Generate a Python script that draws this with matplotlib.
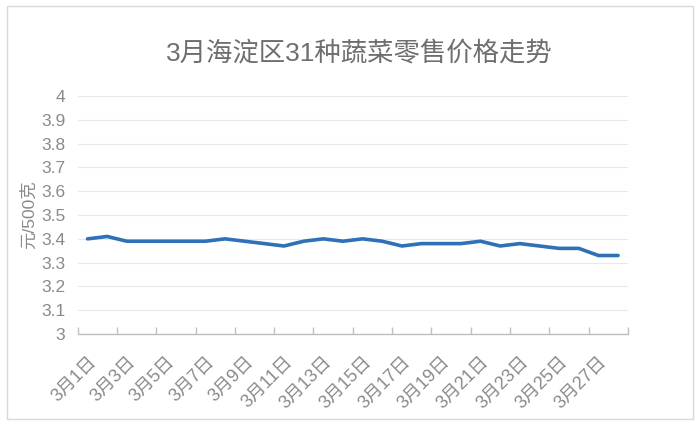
import matplotlib
matplotlib.use("Agg")
import matplotlib.pyplot as plt
from matplotlib.patches import Rectangle

plt.rcParams['font.family'] = ['Liberation Sans', 'Noto Sans CJK SC', 'DejaVu Sans']

# 3月每日均价（元/500克），读自原图
days = ["3月%d日" % d for d in range(1, 29)]
prices = [3.40, 3.41, 3.39, 3.39, 3.39, 3.39, 3.39, 3.40, 3.39, 3.38,
          3.37, 3.39, 3.40, 3.39, 3.40, 3.39, 3.37, 3.38, 3.38, 3.38,
          3.39, 3.37, 3.38, 3.37, 3.36, 3.36, 3.33, 3.33]
yticks = [3.0, 3.1, 3.2, 3.3, 3.4, 3.5, 3.6, 3.7, 3.8, 3.9, 4.0]
ytick_labels = ["3", "3.1", "3.2", "3.3", "3.4", "3.5", "3.6", "3.7", "3.8", "3.9", "4"]

title = "3月海淀区31种蔬菜零售价格走势"
ylabel = "元/500克"

gray = "#8a8a8a"
line_blue = "#2f71b6"

fig = plt.figure(figsize=(7, 4.25), dpi=100)
ax = fig.add_axes([0.111, 0.214, 0.786, 0.56])

x = list(range(len(days)))
ax.plot(x, prices, color=line_blue, linewidth=2.6, solid_joinstyle='round',
        solid_capstyle='round')

ax.set_xlim(-0.5, len(days) - 0.5)
ax.set_ylim(3.0, 4.0)

# y axis: gridlines, no spine
ax.set_yticks(yticks)
ax.set_yticklabels(ytick_labels, color=gray, fontsize=12.5)
ax.tick_params(axis='y', length=0, pad=9)
ax.grid(axis='y', color="#e8e8e8", linewidth=0.8)
ax.set_axisbelow(True)

# x axis: label every 2nd day, tick marks between pairs
ax.set_xticks(x[::2])
ax.set_xticklabels(days[::2], rotation=45, ha='right', rotation_mode='anchor',
                   color=gray, fontsize=13)
ax.tick_params(axis='x', length=0, pad=14)
ax.set_xticks([i - 0.5 for i in range(0, len(days) + 1, 2)], minor=True)
ax.tick_params(axis='x', which='minor', direction='in', length=5,
               color="#bfbfbf", width=1)

for side in ['top', 'right', 'left']:
    ax.spines[side].set_visible(False)
ax.spines['bottom'].set_color("#bfbfbf")
ax.spines['bottom'].set_linewidth(1)

ax.set_ylabel(ylabel, color=gray, fontsize=12.5, labelpad=3)

fig.text(0.514, 0.872, title, ha='center', va='center', fontsize=19, color="#6e6e6e")

# outer chart border
fig.patches.append(Rectangle((0.01, 0.015), 0.98, 0.97, transform=fig.transFigure,
                             fill=False, edgecolor="#d9d9d9", linewidth=1))

fig.savefig("out.png", dpi=100)
